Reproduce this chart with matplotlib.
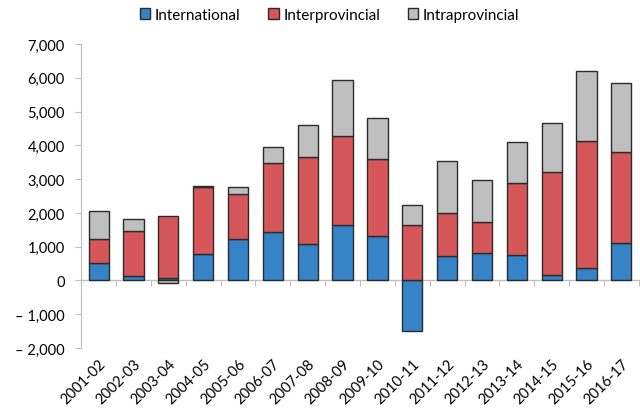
import numpy as np
import matplotlib.pyplot as plt
from matplotlib.ticker import FuncFormatter

plt.rcParams['font.family'] = ['Lato', 'DejaVu Sans']

anios = ['2001-02', '2002-03', '2003-04', '2004-05', '2005-06', '2006-07',
         '2007-08', '2008-09', '2009-10', '2010-11', '2011-12', '2012-13',
         '2013-14', '2014-15', '2015-16', '2016-17']
international = [515, 140, 70, 770, 1215, 1425, 1085, 1650, 1305, -1500,
                 715, 820, 745, 150, 360, 1105]
interprovincial = [720, 1330, 1825, 1995, 1355, 2040, 2570, 2625, 2280, 1630,
                   1270, 910, 2145, 3070, 3760, 2705]
intraprovincial = [820, 350, -80, 20, 195, 495, 955, 1650, 1230, 600,
                   1560, 1250, 1210, 1440, 2070, 2040]

col_intl = '#3783c8'
col_inter = '#d5575a'
col_intra = '#bfbfbf'
gris_eje = '#bfbfbf'


def apilar(serie_a, serie_b):
    # base del siguiente tramo: positivos sobre positivos, negativos bajo negativos
    pos = np.zeros(len(serie_a))
    neg = np.zeros(len(serie_a))
    for s in (serie_a, serie_b):
        s = np.asarray(s, dtype=float)
        pos += np.where(s > 0, s, 0)
        neg += np.where(s < 0, s, 0)
    return pos, neg


fig = plt.figure(figsize=(6.4, 4.14), dpi=100)
ax = fig.add_axes([0.127, 0.157, 0.871, 0.734])

x = np.arange(len(anios))
ancho = 0.58
kw = dict(width=ancho, edgecolor='#2b2b2b', linewidth=1.0)

intl = np.asarray(international, dtype=float)
inter = np.asarray(interprovincial, dtype=float)
intra = np.asarray(intraprovincial, dtype=float)

base_inter = np.where(inter >= 0, np.maximum(intl, 0), np.minimum(intl, 0))
pos, neg = apilar(intl, inter)
base_intra = np.where(intra >= 0, pos, neg)

ax.bar(x, intl, color=col_intl, label='International', **kw)
ax.bar(x, inter, bottom=base_inter, color=col_inter, label='Interprovincial', **kw)
ax.bar(x, intra, bottom=base_intra, color=col_intra, label='Intraprovincial', **kw)

ymin, ymax = -2000, 7000
ax.set_ylim(ymin, ymax)
ax.set_xlim(-0.5, len(anios) - 0.5)
ax.set_yticks(np.arange(ymin, ymax + 1, 1000))


def fmt(v, _):
    if v < 0:
        return '\u2013 {:,.0f}'.format(-v)
    return '{:,.0f}'.format(v)


ax.yaxis.set_major_formatter(FuncFormatter(fmt))
ax.tick_params(axis='y', length=4, color=gris_eje, labelsize=10.5, pad=8,
               labelcolor='black')

for lado in ('top', 'right', 'bottom'):
    ax.spines[lado].set_visible(False)
ax.spines['left'].set_color(gris_eje)

# etiquetas de categoria al pie del grafico
ax.set_xticks(x)
ax.set_xticklabels(anios, rotation=45, ha='right', rotation_mode='anchor',
                   fontsize=10.5)
ax.tick_params(axis='x', length=0, pad=6)

# eje horizontal en cero con marcas entre categorias
loc_cero = (0 - ymin) / (ymax - ymin)
eje0 = ax.secondary_xaxis(loc_cero)
eje0.set_xticks(np.arange(len(anios) + 1) - 0.5)
eje0.set_xticklabels([])
eje0.tick_params(length=4, color=gris_eje, direction='out')
eje0.spines['bottom'].set_color(gris_eje)
eje0.spines['bottom'].set_linewidth(1.0)

fig.legend(*ax.get_legend_handles_labels(), loc='center',
           bbox_to_anchor=(0.515, 0.962), ncol=3, frameon=False,
           fontsize=11, handlelength=0.7, handleheight=0.7,
           handletextpad=0.3, columnspacing=1.8)

fig.savefig('out.png', dpi=100)
